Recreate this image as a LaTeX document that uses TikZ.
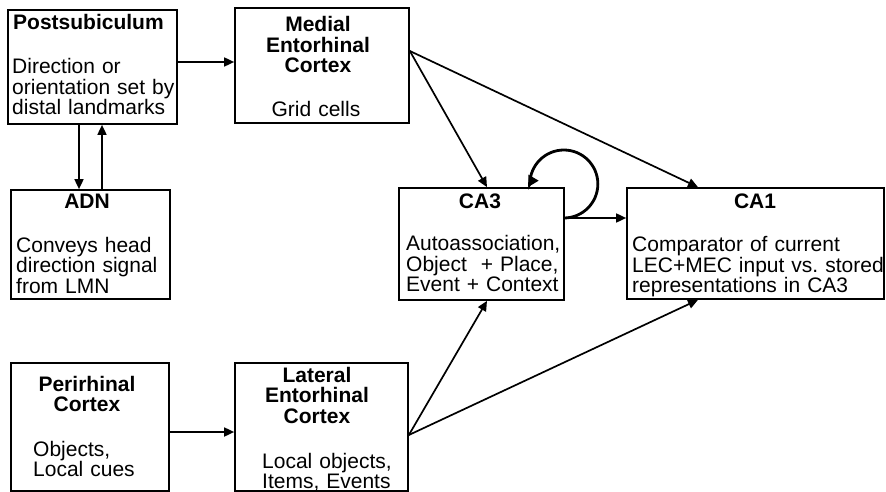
\documentclass[tikz,border=0pt]{standalone}
\usepackage{fontspec}
\setmainfont{Liberation Sans}
\usetikzlibrary{arrows.meta}
\frenchspacing
\tikzset{
  box/.style={draw=black, line width=1.7pt, rectangle, inner sep=0pt},
  conn/.style={line width=1.7pt, -{Triangle[length=10pt,width=9pt]}},
  loopconn/.style={line width=2.8pt, -{Triangle[length=11pt,width=11pt]}},
  ltxt/.style={inner sep=0pt, font=\fontsize{21}{20.5}\selectfont\frenchspacing, text width=#1, align=left, anchor=base west},
  ctxt/.style={inner sep=0pt, font=\fontsize{21}{20.5}\selectfont, text width=#1, align=center, anchor=base},
}
\begin{document}
\begin{tikzpicture}[x=1pt,y=-1pt]
\useasboundingbox[fill=white] (0,0) rectangle (886,492);
% boxes
\node[box, minimum width=169pt, minimum height=114pt] (pos) at (92.5,67) {};
\node[box, minimum width=174pt, minimum height=115pt] (mec) at (322,65.5) {};
\node[box, minimum width=159pt, minimum height=109pt] (adn) at (90.5,244.5) {};
\node[box, minimum width=165pt, minimum height=112pt] (ca3) at (481.5,244) {};
\node[box, minimum width=257pt, minimum height=111pt] (ca1) at (755.5,243.5) {};
\node[box, minimum width=158pt, minimum height=128pt] (prc) at (90,427) {};
\node[box, minimum width=173pt, minimum height=128pt] (lec) at (321.5,427) {};
% texts
\node[ltxt=200pt] (posT) at (13,30) {\bfseries Postsubiculum};
\node[ltxt=200pt] (posB) at (12,74) {Direction or\\orientation set by\\distal landmarks};
\node[ctxt=170pt] (mecT) at (318,32) {\bfseries Medial\\Entorhinal\\Cortex};
\node[ctxt=170pt] (mecB) at (316,117) {Grid cells};
\node[ctxt=150pt] (adnT) at (87,208) {\bfseries ADN};
\node[ltxt=200pt] (adnB) at (16,252) {Conveys head\\direction signal\\from LMN};
\node[ctxt=150pt] (ca3T) at (480,208) {\bfseries CA3};
\node[ltxt=200pt] (ca3B) at (406,250.5) {Autoassociation,\\Object\ \ + Place,\\Event + Context};
\node[ctxt=150pt] (ca1T) at (755,208) {\bfseries CA1};
\node[ltxt=320pt] (ca1B) at (632,251.5) {Comparator of current\\LEC+MEC input vs. stored\\representations in CA3};
\node[ctxt=150pt] (prcT) at (87,391) {\bfseries Perirhinal\\Cortex};
\node[ltxt=160pt] (prcB) at (33,456) {Objects,\\Local cues};
\node[ctxt=170pt] (lecT) at (317,382) {\bfseries Lateral\\Entorhinal\\Cortex};
\node[ltxt=170pt] (lecB) at (262,468) {Local objects,\\Items, Events};
% connectors
\draw[conn] (pos.east |- 0,62) -- (mec.west |- 0,62);
\draw[conn] (pos.south -| 79,0) -- (adn.north -| 79,0);
\draw[conn] (adn.north -| 102,0) -- (pos.south -| 102,0);
\draw[conn] (mec.east |- 0,51) -- (ca3.north -| 487,0);
\draw[conn] (mec.east |- 0,51) -- (ca1.north -| 698,0);
\draw[conn] (ca3.east |- 0,218) -- (ca1.west |- 0,218);
\draw[loopconn] (ca3.east |- 0,218) -- ++(-1,0) arc[start angle=90, end angle=-180, radius=34] -- (ca3.north -| 528,0);
\draw[conn] (lec.east |- 0,435) -- (ca3.south -| 487,0);
\draw[conn] (lec.east |- 0,435) -- (ca1.south -| 698,0);
\draw[conn] (prc.east |- 0,432) -- (lec.west |- 0,432);
\end{tikzpicture}
\end{document}
